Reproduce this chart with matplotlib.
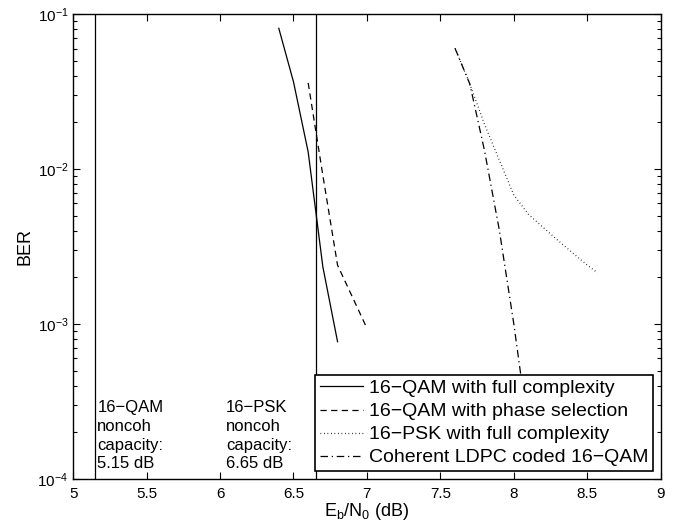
import matplotlib
matplotlib.use("Agg")
import matplotlib.pyplot as plt
from matplotlib.ticker import LogLocator, FixedLocator, NullFormatter

plt.rcParams['font.family'] = ['Liberation Sans', 'DejaVu Sans']
plt.rcParams['mathtext.default'] = 'regular'

# Data
qam_full_x = [6.4, 6.5, 6.6, 6.7, 6.8]
qam_full_y = [0.081, 0.0366, 0.0129, 0.00234, 0.00077]

qam_phase_x = [6.6, 6.7, 6.8, 7.0]
qam_phase_y = [0.036, 0.0091, 0.0024, 0.00094]

psk_full_x = [7.6, 7.7, 7.8, 7.9, 8.0, 8.1, 8.2, 8.3, 8.4, 8.5, 8.57]
psk_full_y = [0.0603, 0.0355, 0.0195, 0.0115, 0.0068, 0.0051, 0.0042, 0.00347, 0.00288, 0.0024, 0.00214]

ldpc_x = [7.6, 7.7, 7.8, 7.9, 8.0, 8.05, 8.1]
ldpc_y = [0.060, 0.0355, 0.0132, 0.0041, 0.001, 0.00045, 0.00016]

capacity_x = [5.15, 6.65]
capacity_texts = ["16\u2212QAM\nnoncoh\ncapacity:\n5.15 dB", "16\u2212PSK\nnoncoh\ncapacity:\n6.65 dB"]
capacity_text_x = [5.165, 6.04]

legend_labels = ["16\u2212QAM with full complexity", "16\u2212QAM with phase selection",
                 "16\u2212PSK with full complexity", "Coherent LDPC coded 16\u2212QAM"]

fig = plt.figure(figsize=(6.77, 5.23), dpi=100)
ax = fig.add_axes([0.108, 0.084, 0.868, 0.889])

lw = 0.9
ax.semilogy(qam_full_x, qam_full_y, 'k-', lw=lw, label=legend_labels[0])
ax.semilogy(qam_phase_x, qam_phase_y, 'k--', lw=lw, dashes=(5, 3.5), label=legend_labels[1])
ax.semilogy(psk_full_x, psk_full_y, 'k:', lw=lw, dashes=(0.6, 2.2), label=legend_labels[2])
ax.semilogy(ldpc_x, ldpc_y, 'k-.', lw=lw, dashes=(6, 3, 1, 3), label=legend_labels[3])

for cx in capacity_x:
    ax.axvline(cx, color='k', lw=0.9)
for tx, t in zip(capacity_text_x, capacity_texts):
    ax.text(tx, 1.12e-4, t, fontsize=12, va='bottom', ha='left', linespacing=1.32)

ax.set_xlim(5, 9)
ax.set_ylim(1e-4, 1e-1)
ax.xaxis.set_major_locator(FixedLocator([5, 5.5, 6, 6.5, 7, 7.5, 8, 8.5, 9]))
ax.set_xticklabels(['5', '5.5', '6', '6.5', '7', '7.5', '8', '8.5', '9'])
ax.yaxis.set_major_locator(LogLocator(base=10, numticks=10))
ax.yaxis.set_minor_locator(LogLocator(base=10, subs=range(2, 10), numticks=10))
ax.yaxis.set_minor_formatter(NullFormatter())
ax.tick_params(which='both', direction='in', top=True, right=True, labelsize=11, width=0.8)
ax.tick_params(axis='x', pad=6)
ax.tick_params(which='major', length=5)
ax.tick_params(which='minor', length=3)
for s in ax.spines.values():
    s.set_linewidth(1.0)

ax.set_xlabel('E$_b$/N$_0$ (dB)', fontsize=13, labelpad=0)
ax.set_ylabel('BER', fontsize=13, labelpad=3)

leg = ax.legend(loc='lower right', fontsize=14, frameon=True, fancybox=False,
                edgecolor='k', framealpha=1, handlelength=2.2, handletextpad=0.3,
                borderpad=0.25, labelspacing=0.28, borderaxespad=0.4)
leg.get_frame().set_linewidth(1.2)

fig.savefig('out.png', dpi=100)
